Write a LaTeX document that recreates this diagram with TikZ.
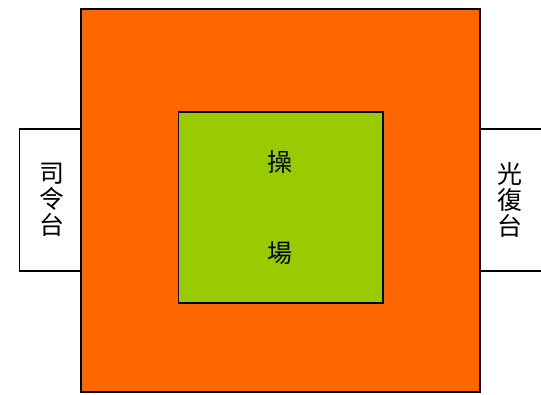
\documentclass[tikz,border=0pt]{standalone}
\usepackage{fontspec}
\setmainfont{Noto Sans CJK TC}
\usetikzlibrary{arrows}

\begin{document}
\begin{tikzpicture}[x=1pt,y=-1pt]
\tikzstyle{zone}=[draw=black,line width=1.6pt,inner sep=0pt,anchor=north west]
\tikzstyle{word}=[text=black,align=center,font=\fontsize{25}{26}\selectfont]
\useasboundingbox (0,0) rectangle (541,395);
\definecolor{track}{HTML}{FF6600}
\definecolor{field}{HTML}{99CC00}
\node (1) at (18.5,128.5) [zone,fill=white,minimum width=62pt,minimum height=141.5pt]{};
\node (2) at (479,128.5) [zone,fill=white,minimum width=63pt,minimum height=141.5pt]{};
\node (3) at (80,8) [zone,fill=track,minimum width=399pt,minimum height=383pt]{};
\node (4) at (177.5,111.5) [zone,fill=field,minimum width=204.5pt,minimum height=191pt]{};
\node (5) at (52,200) [word]{司\\令\\台};
\node (6) at (510,200) [word]{光\\復\\台};
\node (7) at (280,162) [word]{操};
\node (8) at (280,253) [word]{場};
\end{tikzpicture}
\end{document}
